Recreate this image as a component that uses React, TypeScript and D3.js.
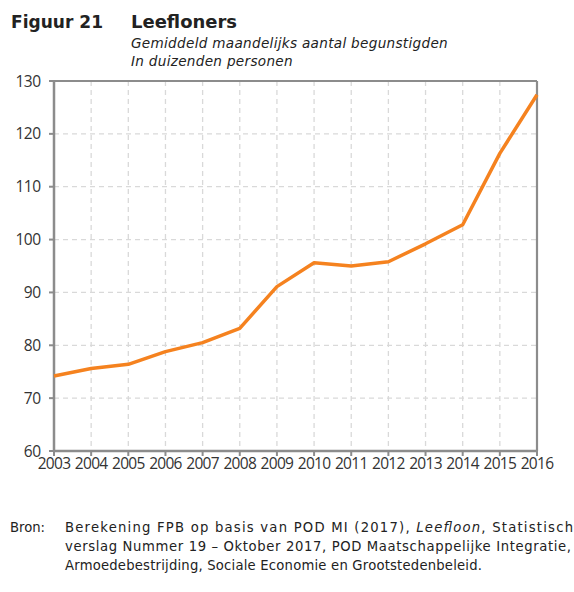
import React from "react";
import * as d3 from "d3";

const years = [2003, 2004, 2005, 2006, 2007, 2008, 2009, 2010, 2011, 2012, 2013, 2014, 2015, 2016];
const values = [74.2, 75.6, 76.4, 78.8, 80.5, 83.2, 91.1, 95.6, 95.0, 95.8, 99.2, 102.8, 116.3, 127.4];
const yTicks = [60, 70, 80, 90, 100, 110, 120, 130];
const title = "Leefloners";
const figLabel = "Figuur 21";
const subtitle = ["Gemiddeld maandelijks aantal begunstigden", "In duizenden personen"];

const W = 574, H = 592;
const L = 54, R = 537, T = 81, B = 451;

export default function App() {
  const x = d3.scaleLinear().domain([2003, 2016]).range([L, R]);
  const y = d3.scaleLinear().domain([60, 130]).range([B, T]);
  const line = d3.line<number>().x((_, i) => x(years[i])).y((d) => y(d));
  const font = "Tahoma, 'DejaVu Sans', sans-serif";
  const tickFont = "'Open Sans', sans-serif";
  return (
    <svg width={W} height={H} style={{ position: "absolute", left: 0, top: 0, background: "#fff" }}>
      <text x={11} y={28} fontFamily={font} fontWeight="bold" fontSize={17.8} fill="#222" textLength={92} lengthAdjust="spacingAndGlyphs">{figLabel}</text>
      <text x={131} y={28} fontFamily={font} fontWeight="bold" fontSize={17.8} fill="#222" textLength={106} lengthAdjust="spacingAndGlyphs">{title}</text>
      {subtitle.map((s, i) => (
        <text key={i} x={131} y={48 + i * 18} fontFamily={font} fontStyle="italic" fontSize={13.6} letterSpacing={0.3} fill="#222">{s}</text>
      ))}
      {yTicks.slice(1, -1).map((t) => (
        <line key={"gy" + t} x1={L} x2={R} y1={y(t)} y2={y(t)} stroke="#d9d9d9" strokeWidth={1.3} strokeDasharray="5,4" />
      ))}
      {years.slice(1, -1).map((yr) => (
        <line key={"gx" + yr} x1={x(yr)} x2={x(yr)} y1={T} y2={B} stroke="#d9d9d9" strokeWidth={1.3} strokeDasharray="5,4" />
      ))}
      <line x1={L} x2={R} y1={T} y2={T} stroke="#8c8c8c" strokeWidth={2.2} />
      <line x1={R} x2={R} y1={T} y2={B} stroke="#8c8c8c" strokeWidth={2.2} />
      <line x1={L} x2={L} y1={T} y2={B + 1} stroke="#8c8c8c" strokeWidth={2.5} />
      <line x1={L - 1} x2={R + 1} y1={B} y2={B} stroke="#8c8c8c" strokeWidth={2.5} />
      {yTicks.map((t) => (
        <g key={"ty" + t}>
          <line x1={L - 5} x2={L} y1={y(t)} y2={y(t)} stroke="#8c8c8c" strokeWidth={2} />
          <text x={40.5} y={y(t) + 5.5} textAnchor="end" fontFamily={tickFont} fontSize={15.5} letterSpacing={-0.5} fill="#333">{t}</text>
        </g>
      ))}
      {years.map((yr) => (
        <g key={"tx" + yr}>
          <line x1={x(yr)} x2={x(yr)} y1={B} y2={B + 5} stroke="#8c8c8c" strokeWidth={2} />
          <text x={x(yr)} y={B + 17.5} textAnchor="middle" fontFamily={tickFont} fontSize={15.5} letterSpacing={-0.7} fill="#333">{yr}</text>
        </g>
      ))}
      <path d={line(values) || ""} fill="none" stroke="#f5821f" strokeWidth={3.5} strokeLinejoin="round" />
      <g fontFamily={font} fontSize={13.2} fill="#222">
        <text x={10} y={532}>Bron:</text>
        <text x={65} y={532} textLength={508} lengthAdjust="spacing">Berekening FPB op basis van POD MI (2017), <tspan fontStyle="italic">Leefloon</tspan>, Statistisch</text>
        <text x={65} y={551} textLength={506} lengthAdjust="spacing">verslag Nummer 19 – Oktober 2017, POD Maatschappelijke Integratie,</text>
        <text x={65} y={570} textLength={417} lengthAdjust="spacing">Armoedebestrijding, Sociale Economie en Grootstedenbeleid.</text>
      </g>
    </svg>
  );
}
